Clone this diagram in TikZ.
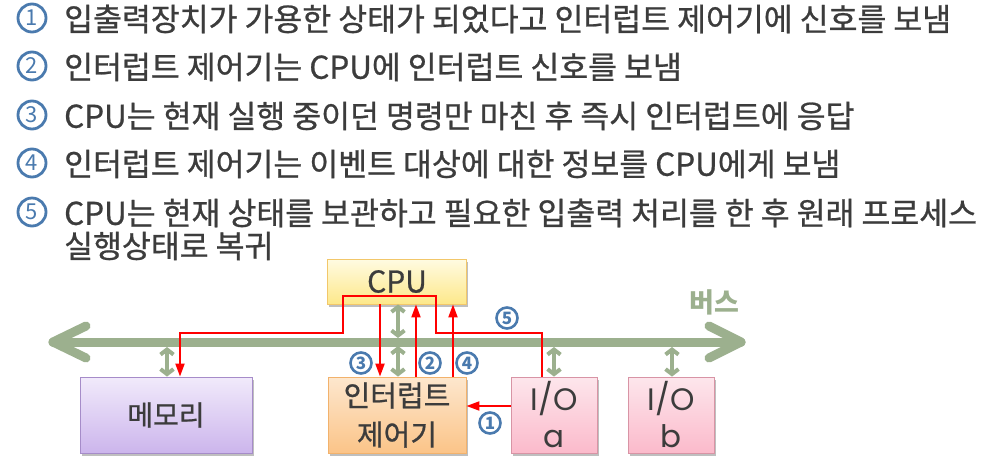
\documentclass[tikz,border=0pt]{standalone}
\usepackage{fontspec}
\setmainfont{Noto Sans CJK KR}
\newfontfamily\kfont[FakeBold=0.8]{Noto Sans CJK KR}
\newfontfamily\iofont{Poppins}
\usetikzlibrary{arrows.meta,calc,shadows}
\definecolor{txtgray}{HTML}{3C3C3C}
\definecolor{numblue}{HTML}{4A7AAE}
\definecolor{busgreen}{HTML}{9CB08E}
\definecolor{redline}{HTML}{FF0000}
\definecolor{cpuTop}{HTML}{FFFBE2}
\definecolor{cpuBot}{HTML}{FDE88A}
\definecolor{cpuEdge}{HTML}{F2C76A}
\definecolor{memTop}{HTML}{F1EAFB}
\definecolor{memBot}{HTML}{CCB5EC}
\definecolor{memEdge}{HTML}{A68CC9}
\definecolor{icTop}{HTML}{FDE7CE}
\definecolor{icBot}{HTML}{FBC488}
\definecolor{icEdge}{HTML}{F2B26C}
\definecolor{ioTop}{HTML}{FDE6EC}
\definecolor{ioBot}{HTML}{FBBACB}
\definecolor{ioEdge}{HTML}{D894A5}
\begin{document}
\begin{tikzpicture}[x=1pt,y=-1pt,
  listtext/.style={anchor=west,inner sep=0pt,text=txtgray,font=\kfont\fontsize{31.4}{31.4}\selectfont},
  listnum/.style={inner sep=0pt,text=numblue,font=\fontsize{22}{22}\selectfont},
  listring/.style={draw=numblue,line width=2.8pt},
  smallnum/.style={inner sep=0pt,text=numblue,font=\bfseries\fontsize{17}{17}\selectfont},
  boxbase/.style={draw,line width=0.8pt,text=txtgray,align=center,inner sep=0pt,
    drop shadow={shadow xshift=1.5pt,shadow yshift=-2.5pt,fill=black,opacity=0.25}},
  cpubox/.style={boxbase,top color=cpuTop,bottom color=cpuBot,draw=cpuEdge,minimum width=139pt,minimum height=45pt,font=\kfont\fontsize{30}{30}\selectfont},
  membox/.style={boxbase,top color=memTop,bottom color=memBot,draw=memEdge,minimum width=172pt,minimum height=76pt,font=\kfont\fontsize{28}{28}\selectfont},
  icbox/.style={boxbase,top color=icTop,bottom color=icBot,draw=icEdge,minimum width=138pt,minimum height=76pt,font=\kfont\fontsize{29}{39}\selectfont},
  iobox/.style={boxbase,top color=ioTop,bottom color=ioBot,draw=ioEdge,minimum width=86pt,minimum height=76pt,font=\iofont\fontsize{31}{37}\selectfont},
  bus/.style={draw=busgreen,line width=9pt,line cap=round,line join=round},
  busconn/.style={draw=busgreen,line width=4pt,{Straight Barb[length=5pt,width=13pt]}-{Straight Barb[length=5pt,width=13pt]}},
  sig/.style={draw=redline,line width=2pt,-{Triangle[length=13pt,width=9pt]}}
]
\useasboundingbox (0,0) rectangle (995,464);

% list
\node[listnum] (n1) at (32,18) {1};
\node[listnum] (n2) at (32,66) {2};
\node[listnum] (n3) at (32,115) {3};
\node[listnum] (n4) at (32,163) {4};
\node[listnum] (n5) at (32,212) {5};
\foreach \n in {n1,n2,n3,n4,n5} \draw[listring] (\n.center) circle[radius=14pt];
\node[listtext] (t1) at (64,19) {입출력장치가 가용한 상태가 되었다고 인터럽트 제어기에 신호를 보냄};
\node[listtext] (t2) at (64,67) {인터럽트 제어기는 CPU에 인터럽트 신호를 보냄};
\node[listtext] (t3) at (64,116) {CPU는 현재 실행 중이던 명령만 마친 후 즉시 인터럽트에 응답};
\node[listtext] (t4) at (64,164) {인터럽트 제어기는 이벤트 대상에 대한 정보를 CPU에게 보냄};
\node[listtext] (t5) at (64,213) {CPU는 현재 상태를 보관하고 필요한 입출력 처리를 한 후 원래 프로세스};
\node[listtext] (t6) at (64,246) {실행상태로 복귀};

% bus
\draw[bus] (53,342) -- (741,342);
\draw[bus] (86,326) -- (53,342) -- (86,358);
\draw[bus] (709,326) -- (741,342) -- (709,358);
\node[text=busgreen,font=\bfseries\fontsize{27}{27}\selectfont] (buslbl) at (714,302) {버스};

% boxes
\node[cpubox] (cpu) at (397,281.5) {CPU};
\node[membox] (mem) at (166,415) {메모리};
\node[icbox] (ic) at (397,415) {인터럽트\\제어기};
\node[iobox] (ioa) at (554,415) {I/O\\a};
\node[iobox] (iob) at (671,415) {I/O\\b};

% bus connectors
\draw[busconn] (167,347) -- (167,0 |- mem.north);
\draw[busconn] (398,0 |- cpu.south) -- (398,338);
\draw[busconn] (398,346) -- (398,0 |- ic.north);
\draw[busconn] (554,347) -- (554,0 |- ioa.north);
\draw[busconn] (672,347) -- (672,0 |- iob.north);

% signals
\draw[sig] ($(ioa.west)+(0,-9)$) -- ($(ic.east)+(0,-9)$);
\draw[sig] (416,0 |- ic.north) -- (416,0 |- cpu.south);
\draw[sig] (380,0 |- cpu.south) -- (380,0 |- ic.north);
\draw[sig] (453,0 |- ic.north) -- (453,0 |- cpu.south);
\draw[sig] (542,0 |- ioa.north) |- (436,333) |- (343,296) |- (180,333) -- (180,0 |- mem.north);

% signal labels
\node[smallnum] (s1) at (490,423) {1};
\node[smallnum] (s2) at (430,363) {2};
\node[smallnum] (s3) at (361,363) {3};
\node[smallnum] (s4) at (467,363) {4};
\node[smallnum] (s5) at (507,318) {5};
\foreach \n in {s1,s2,s3,s4,s5} \draw[listring,line width=2.6pt] (\n.center) circle[radius=10.5pt];
\end{tikzpicture}
\end{document}
